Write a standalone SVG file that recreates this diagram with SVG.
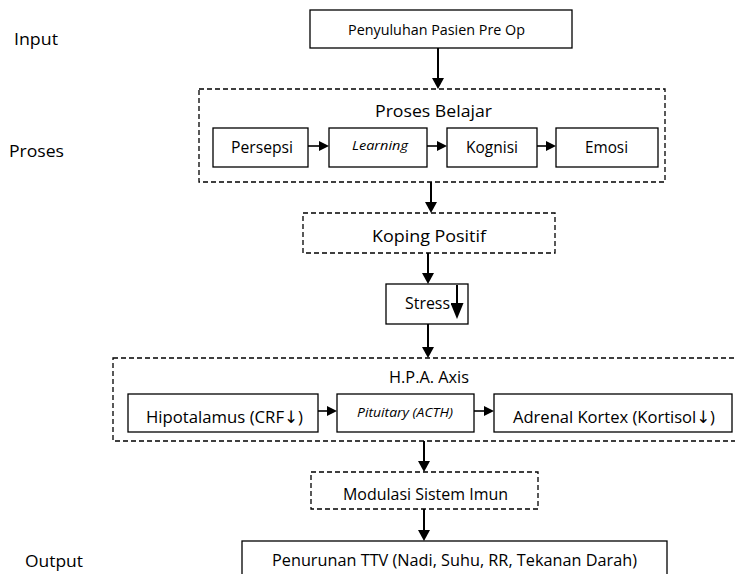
<svg xmlns="http://www.w3.org/2000/svg" width="735" height="574" viewBox="0 0 735 574">
<style>
.box{fill:#fff;stroke:#000;stroke-width:1.3}
.dash{fill:#fff;stroke:#000;stroke-width:1.3;stroke-dasharray:5 3}
.t{font-family:"Open Sans","Liberation Sans","DejaVu Sans",sans-serif;fill:#000}
.i{font-style:italic}
.ar{font-family:"DejaVu Sans",sans-serif}
.v{stroke:#000;stroke-width:2}
.h{stroke:#000;stroke-width:1.6}
</style>
<defs>
<marker id="av" markerUnits="userSpaceOnUse" markerWidth="11" markerHeight="12" viewBox="0 0 11 12" refX="0" refY="6" orient="auto"><path d="M0,0 L11,6 L0,12 z" fill="#000"/></marker>
<marker id="ah" markerUnits="userSpaceOnUse" markerWidth="10" markerHeight="10" viewBox="0 0 10 10" refX="0" refY="5" orient="auto"><path d="M0,0 L10,5 L0,10 z" fill="#000"/></marker>
<marker id="ab" markerUnits="userSpaceOnUse" markerWidth="16" markerHeight="13" viewBox="0 0 16 13" refX="0" refY="6.5" orient="auto"><path d="M0,0 L16,6.5 L0,13 z" fill="#000"/></marker>
</defs>
<rect width="735" height="574" fill="#fff"/>

<g id="labels">
<text class="t" x="14" y="45" font-size="17" textLength="44" lengthAdjust="spacingAndGlyphs">Input</text>
<text class="t" x="9" y="157" font-size="17" textLength="55" lengthAdjust="spacingAndGlyphs">Proses</text>
<text class="t" x="25" y="567" font-size="17" textLength="58" lengthAdjust="spacingAndGlyphs">Output</text>
</g>

<g id="input">
<rect class="box" x="310" y="10" width="262" height="38"/>
<text class="t" x="348" y="35" font-size="15" textLength="177" lengthAdjust="spacingAndGlyphs">Penyuluhan Pasien Pre Op</text>
</g>

<g id="proses-belajar">
<rect class="dash" x="199" y="89" width="466" height="93"/>
<text class="t" x="375" y="117" font-size="17" textLength="117" lengthAdjust="spacingAndGlyphs">Proses Belajar</text>
</g>
<g id="persepsi">
<rect class="box" x="213" y="128" width="95" height="39"/>
<text class="t" x="231" y="153" font-size="16" textLength="62" lengthAdjust="spacingAndGlyphs">Persepsi</text>
</g>
<g id="learning">
<rect class="box" x="329" y="128" width="98" height="39"/>
<text class="t i" x="352" y="150" font-size="13.5" textLength="56" lengthAdjust="spacingAndGlyphs">Learning</text>
</g>
<g id="kognisi">
<rect class="box" x="447" y="128" width="90" height="39"/>
<text class="t" x="466" y="153" font-size="16" textLength="52" lengthAdjust="spacingAndGlyphs">Kognisi</text>
</g>
<g id="emosi">
<rect class="box" x="556" y="128" width="102" height="39"/>
<text class="t" x="585" y="153" font-size="16" textLength="43" lengthAdjust="spacingAndGlyphs">Emosi</text>
</g>

<g id="koping">
<rect class="dash" x="303" y="213" width="252" height="40"/>
<text class="t" x="372" y="242" font-size="17" textLength="114" lengthAdjust="spacingAndGlyphs">Koping Positif</text>
</g>

<g id="stress">
<rect class="box" x="386" y="284" width="82" height="40"/>
<text class="t" x="405" y="309" font-size="16.5" textLength="45" lengthAdjust="spacingAndGlyphs">Stress</text>
</g>

<g id="hpa">
<rect class="dash" x="113" y="358" width="630" height="83"/>
<text class="t" x="389" y="383" font-size="15.5" textLength="80" lengthAdjust="spacingAndGlyphs">H.P.A. Axis</text>
</g>
<g id="hipotalamus">
<rect class="box" x="128" y="394" width="190" height="38"/>
<text class="t" x="146" y="423" font-size="17" textLength="157" lengthAdjust="spacingAndGlyphs">Hipotalamus (CRF<tspan class="ar">↓</tspan>)</text>
</g>
<g id="pituitary">
<rect class="box" x="337" y="394" width="137" height="38"/>
<text class="t i" x="357" y="417" font-size="12" textLength="96" lengthAdjust="spacingAndGlyphs">Pituitary (ACTH)</text>
</g>
<g id="adrenal">
<rect class="box" x="494" y="394" width="238" height="38"/>
<text class="t" x="513" y="423" font-size="17" textLength="202" lengthAdjust="spacingAndGlyphs">Adrenal Kortex (Kortisol<tspan class="ar">↓</tspan>)</text>
</g>

<g id="modulasi">
<rect class="dash" x="311" y="472" width="227" height="37"/>
<text class="t" x="343" y="500" font-size="16" textLength="165" lengthAdjust="spacingAndGlyphs">Modulasi Sistem Imun</text>
</g>

<g id="output">
<rect class="box" x="242" y="541" width="425" height="40"/>
<text class="t" x="272" y="566" font-size="15.5" textLength="365" lengthAdjust="spacingAndGlyphs">Penurunan TTV (Nadi, Suhu, RR, Tekanan Darah)</text>
</g>

<g id="connectors">
<line class="v" x1="438" y1="48" x2="438" y2="78" marker-end="url(#av)"/>
<line class="v" x1="431" y1="182" x2="431" y2="202" marker-end="url(#av)"/>
<line class="v" x1="428" y1="253" x2="428" y2="273" marker-end="url(#av)"/>
<line class="v" x1="428" y1="324" x2="428" y2="347" marker-end="url(#av)"/>
<line class="v" x1="424" y1="441" x2="424" y2="461" marker-end="url(#av)"/>
<line class="v" x1="424" y1="509" x2="424" y2="530" marker-end="url(#av)"/>
<line class="v" x1="457" y1="285" x2="457" y2="303" marker-end="url(#ab)"/>
<line class="h" x1="308" y1="146" x2="319" y2="146" marker-end="url(#ah)"/>
<line class="h" x1="427" y1="146" x2="437" y2="146" marker-end="url(#ah)"/>
<line class="h" x1="537" y1="146" x2="546" y2="146" marker-end="url(#ah)"/>
<line class="h" x1="318" y1="411" x2="327" y2="411" marker-end="url(#ah)"/>
<line class="h" x1="474" y1="411" x2="484" y2="411" marker-end="url(#ah)"/>
</g>
</svg>
